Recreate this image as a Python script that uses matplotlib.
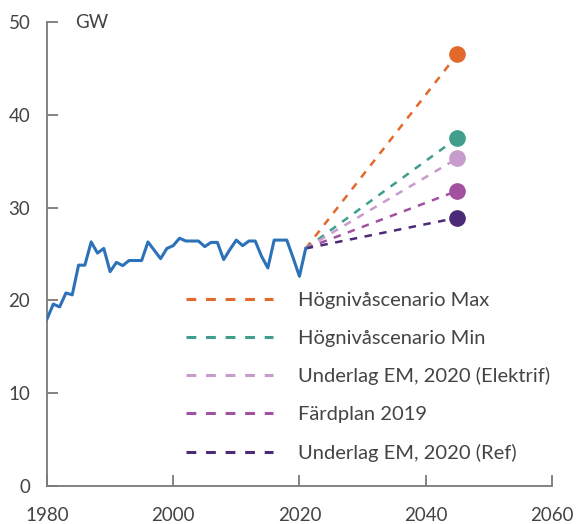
import matplotlib
matplotlib.use('Agg')
import matplotlib.pyplot as plt

plt.rcParams['font.family'] = ['Lato', 'DejaVu Sans']

# Historical installed power (GW)
years = list(range(1980, 2022))
hist = [18.0, 19.6, 19.3, 20.8, 20.6, 23.8, 23.8, 26.3, 25.1, 25.6,
        23.1, 24.1, 23.75, 24.3, 24.3, 24.3, 26.3, 25.4, 24.5, 25.6,
        25.9, 26.7, 26.4, 26.4, 26.4, 25.8, 26.25, 26.25, 24.4, 25.5,
        26.5, 25.9, 26.4, 26.4, 24.75, 23.5, 26.5, 26.5, 26.5, 24.6,
        22.6, 25.6]

# Scenarios for 2045
scen_names = ['Högnivåscenario Max', 'Högnivåscenario Min',
              'Underlag EM, 2020 (Elektrif)', 'Färdplan 2019',
              'Underlag EM, 2020 (Ref)']
scen_end = [46.5, 37.5, 35.3, 31.8, 28.9]
scen_colors = ['#E2692B', '#3F9E8C', '#C79BCC', '#A2519F', '#4B2A78']
start_year = 2021
end_year = 2045

fig = plt.figure(figsize=(5.76, 5.24), dpi=100)
ax = fig.add_axes([0.0816, 0.0725, 0.8764, 0.8855])

ax.plot(years, hist, color='#2C72B8', lw=2.2, zorder=3)

handles = []
for name, val, c in zip(scen_names, scen_end, scen_colors):
    ax.plot([start_year, end_year], [hist[-1], val], color=c, lw=1.8,
            linestyle=(0, (3, 3)), zorder=2)
    ax.plot([end_year], [val], 'o', color=c, ms=11, zorder=4)
    h, = ax.plot([], [], color=c, lw=2.2, linestyle=(0, (3.2, 3.2)), label=name)
    handles.append(h)

ax.set_xlim(1980, 2060)
ax.set_ylim(0, 50)
ax.set_xticks([1980, 2000, 2020, 2040, 2060])
ax.set_yticks([0, 10, 20, 30, 40, 50])

for s in ['top', 'right']:
    ax.spines[s].set_visible(False)
for s in ['left', 'bottom']:
    ax.spines[s].set_color('#7a7a7a')
    ax.spines[s].set_linewidth(1.3)
ax.tick_params(direction='in', length=8, width=1.3, color='#7a7a7a',
               labelsize=13.5, labelcolor='#444444')
ax.tick_params(axis='x', pad=15)
ax.tick_params(axis='y', pad=12)

ax.text(0.055, 1.0, 'GW', transform=ax.transAxes, fontsize=13.5,
        color='#444444', va='center', ha='left')

leg = ax.legend(handles=handles, loc='upper left',
                bbox_to_anchor=(186 / 576, 1 - 292 / 524),
                bbox_transform=fig.transFigure, frameon=False,
                fontsize=14.5, handlelength=4.3, handletextpad=1.25,
                labelspacing=1.02, borderpad=0, borderaxespad=0)
for t in leg.get_texts():
    t.set_color('#444444')

fig.savefig('out.png', dpi=100)
